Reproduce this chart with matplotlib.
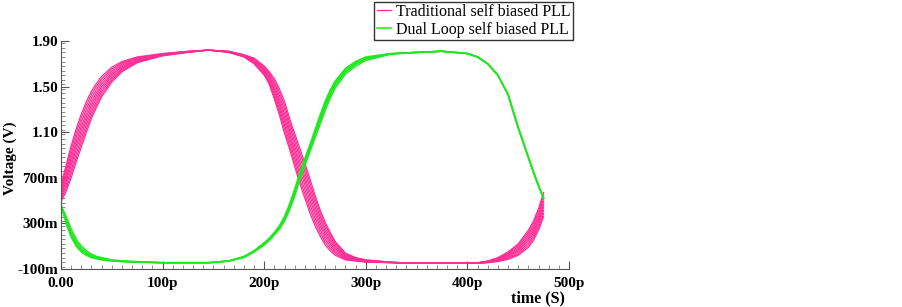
import numpy as np
import matplotlib
matplotlib.use("Agg")
from matplotlib import pyplot as plt
from matplotlib.ticker import MultipleLocator, FixedLocator

plt.rcParams['font.family'] = ['Liberation Serif', 'DejaVu Serif']

##############################################################################
# Data (time in ps, voltage in V)
# -------------------------------------------
time_ps = [0, 5, 10, 15, 20, 25, 30, 35, 40, 50, 60, 75, 100, 125, 145, 165,
           180, 190, 200, 205, 210, 215, 220, 225, 230, 235, 240, 245, 250,
           255, 260, 265, 270, 280, 290, 300, 325, 350, 375, 400, 410, 420,
           430, 440, 450, 460, 465, 470, 475]

# earliest / latest edge of the traditional PLL trace bundle
pink_early = [0.64, 0.81, 0.98, 1.13, 1.26, 1.37, 1.46, 1.53, 1.59,
              1.67, 1.72, 1.76, 1.79, 1.81, 1.82, 1.80, 1.76, 1.70,
              1.60, 1.52, 1.39, 1.25, 1.09, 0.95, 0.80, 0.65, 0.52, 0.39,
              0.28, 0.19, 0.11, 0.06, 0.02, -0.02, -0.03, -0.04,
              -0.045, -0.05, -0.05, -0.05, -0.045, -0.03, 0.0, 0.05, 0.12, 0.24,
              0.32, 0.43, 0.57]
pink_late = [0.49, 0.58, 0.70, 0.84, 0.97, 1.10, 1.22, 1.32, 1.41,
             1.54, 1.63, 1.71, 1.77, 1.80, 1.82, 1.81, 1.78, 1.75,
             1.68, 1.63, 1.57, 1.48, 1.37, 1.22, 1.09, 0.96, 0.83, 0.69,
             0.55, 0.42, 0.31, 0.22, 0.14, 0.04, 0.0, -0.02,
             -0.04, -0.05, -0.05, -0.05, -0.05, -0.045, -0.035, -0.015, 0.02, 0.09,
             0.15, 0.24, 0.36]

# the two edges of the dual loop PLL bundle
green_a = [0.46, 0.30, 0.18, 0.10, 0.05, 0.02, 0.0, -0.01, -0.02,
           -0.03, -0.035, -0.04, -0.045, -0.045, -0.045, -0.03, 0.01, 0.06,
           0.13, 0.17, 0.22, 0.28, 0.36, 0.47, 0.60, 0.74, 0.87, 0.99,
           1.12, 1.25, 1.37, 1.47, 1.55, 1.66, 1.72, 1.76,
           1.79, 1.80, 1.81, 1.79, 1.76, 1.70, 1.60, 1.43, 1.14, 0.88,
           0.75, 0.63, 0.52]
green_b = [0.46, 0.36, 0.25, 0.16, 0.10, 0.06, 0.03, 0.01, 0.0,
           -0.02, -0.03, -0.035, -0.045, -0.045, -0.045, -0.03, 0.0, 0.05,
           0.11, 0.15, 0.20, 0.25, 0.32, 0.42, 0.54, 0.68, 0.81, 0.93,
           1.05, 1.17, 1.29, 1.40, 1.49, 1.61, 1.68, 1.73,
           1.785, 1.80, 1.81, 1.79, 1.76, 1.70, 1.60, 1.43, 1.14, 0.88,
           0.75, 0.63, 0.52]

# position of each overlaid trace inside its bundle (0 = first edge, 1 = second)
pink_mix = [0, 0.12, 0.25, 0.38, 0.5, 0.62, 0.75, 0.88, 1.0]
green_mix = [0, 0.3, 0.6, 1.0]

x_ticks = [0, 100, 200, 300, 400, 500]
x_labels = ['0.00', '100p', '200p', '300p', '400p', '500p']
y_ticks = [-0.1, 0.3, 0.7, 1.1, 1.5, 1.9]
y_labels = ['-100m', '300m', '700m', '1.10', '1.50', '1.90']

##############################################################################
# Plot
# -------------------------------------------
pink = '#ff2e95'
green = '#1ee81e'

fig = plt.figure(figsize=(9.03, 3.07), dpi=100)
ax = fig.add_axes([61 / 903, 1 - 269 / 307, 508 / 903, 228 / 307])

t = np.array(time_ps)
pe, pl = np.array(pink_early), np.array(pink_late)
ga, gb = np.array(green_a), np.array(green_b)

for i, w in enumerate(pink_mix):
    ax.plot(t, pe + w * (pl - pe), color=pink, lw=0.9,
            label='Traditional self biased PLL' if i == 0 else None)
for i, w in enumerate(green_mix):
    ax.plot(t, ga + w * (gb - ga), color=green, lw=1.1,
            label='Dual Loop self biased PLL' if i == 0 else None)

ax.set_xlim(0, 500)
ax.set_ylim(-0.1, 1.9)
ax.xaxis.set_major_locator(FixedLocator(x_ticks))
ax.set_xticklabels(x_labels, fontweight='bold')
ax.yaxis.set_major_locator(FixedLocator(y_ticks))
ax.set_yticklabels(y_labels, fontweight='bold')
ax.xaxis.set_minor_locator(MultipleLocator(10))
ax.yaxis.set_minor_locator(MultipleLocator(0.04))

for s in ['top', 'right']:
    ax.spines[s].set_visible(False)
for s in ['left', 'bottom']:
    ax.spines[s].set_color('#555555')
ax.tick_params(which='major', direction='in', length=6, color='#555555',
               labelsize=11, pad=2)
ax.tick_params(axis='x', which='major', pad=6)
ax.tick_params(which='minor', direction='in', length=3, color='#777777')

fig.text(10 / 903, 1 - 158 / 307, 'Voltage (V)', rotation=90, ha='center',
         va='center', fontsize=11, fontweight='bold')
fig.text(565 / 903, 1 - 298 / 307, 'time (S)', ha='right', va='center',
         fontsize=11.5, fontweight='bold')

leg = fig.legend(loc='upper right', bbox_to_anchor=(573 / 903, 0.995),
                 fontsize=11.5, frameon=True, fancybox=False,
                 handlelength=0.9, handletextpad=0.3, borderpad=0.15,
                 labelspacing=0.1, borderaxespad=0)
leg.get_frame().set_edgecolor('black')
leg.get_frame().set_linewidth(1.0)

fig.savefig('out.png', dpi=100)
